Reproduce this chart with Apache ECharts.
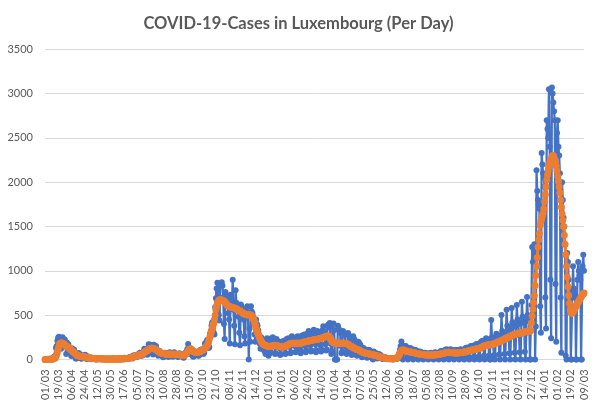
<!DOCTYPE html>
<html>
<head>
<meta charset="utf-8">
<script src="https://cdn.jsdelivr.net/npm/echarts@6/dist/echarts.min.js"></script>
<style>
html,body{margin:0;padding:0;background:#fff;}
#chart{width:597px;height:405px;}
</style>
</head>
<body>
<div id="chart"></div>
<script>
const titleText = 'COVID-19-Cases in Luxembourg (Per Day)';
const startDate = '2020-03-01';
const labelEvery = 18;
const yTicks = [0, 500, 1000, 1500, 2000, 2500, 3000, 3500];

// daily reported cases, one row per week (Sun..Sat), starting 01/03/2020
const casesPerDay = [
0,0,0,1,1,2,3,
2,3,2,5,19,26,25,
40,130,150,210,245,255,230,
180,120,225,250,190,200,226,
150,60,190,141,168,125,117,
75,39,127,64,81,108,47,
11,11,15,66,71,36,57,
13,8,25,40,38,20,52,
22,5,35,14,20,16,10,
5,2,10,12,5,3,8,
3,0,5,12,15,6,3,
2,1,10,3,7,4,3,
0,1,3,5,8,2,6,
4,0,3,9,6,3,4,
0,3,2,6,11,4,2,
1,7,4,2,18,15,10,
6,9,8,19,26,29,15,
20,11,44,36,48,40,35,
28,44,60,55,75,66,40,
45,51,90,120,116,105,80,
52,64,170,127,166,132,103,
67,55,165,135,114,150,98,
60,40,88,95,70,68,52,
34,24,60,75,63,70,46,
40,28,75,80,62,60,45,
30,38,82,61,65,56,44,
28,33,70,48,52,55,30,
25,20,60,72,58,96,118,
175,60,130,95,88,70,42,
30,35,68,75,70,64,48,
40,45,100,110,105,115,90,
60,75,180,175,195,220,210,
130,140,290,320,380,420,350,
300,280,590,690,800,865,760,
500,440,850,840,870,830,700,
400,230,760,720,680,650,520,
450,180,730,700,650,900,560,
380,170,780,640,620,600,480,
300,160,620,600,560,540,450,
260,180,560,520,600,500,0,
350,200,600,540,520,480,400,
280,200,450,400,380,330,280,
180,120,250,230,200,170,100,
90,60,220,240,200,40,110,
70,80,240,230,250,220,150,
60,70,230,210,200,190,130,
50,60,200,190,180,210,120,
60,70,230,220,240,200,140,
70,80,260,250,240,230,150,
80,90,250,260,230,240,130,
70,90,270,260,250,280,150,
80,100,290,280,320,260,160,
90,100,300,290,336,280,170,
80,100,320,290,300,310,160,
90,110,330,374,320,300,170,
100,110,380,393,360,410,180,
60,90,400,405,330,0,0,
0,0,380,350,330,300,150,
70,90,320,300,290,280,140,
60,80,298,270,260,240,120,
50,60,260,230,220,200,100,
40,50,200,185,175,160,80,
25,30,130,120,110,100,50,
20,25,110,107,95,90,40,
15,0,90,80,75,70,30,
10,15,60,55,50,40,20,
5,8,30,25,22,20,10,
3,5,15,12,10,9,4,
2,0,15,12,16,20,8,
10,25,70,110,150,202,60,
0,90,150,140,150,130,30,
0,80,130,120,125,110,25,
0,65,110,105,100,95,20,
0,55,90,85,80,75,18,
0,45,75,72,70,65,15,
0,45,72,70,75,68,15,
0,40,80,75,72,70,15,
0,55,90,88,95,85,18,
0,70,110,105,115,100,20,
0,72,115,110,105,100,22,
0,65,105,100,105,95,20,
0,70,115,110,105,110,22,
0,85,130,125,135,120,25,
0,95,150,145,155,140,30,
0,110,170,165,175,160,35,
0,130,200,190,210,185,40,
0,150,240,230,220,220,45,
0,0,445,250,240,230,50,
0,180,290,280,270,260,55,
0,200,500,320,300,290,60,
0,240,560,380,350,330,70,
0,260,580,420,390,370,75,
0,280,613,450,420,400,80,
0,290,650,480,440,410,85,
0,300,705,500,460,430,0,
0,615,1270,1100,1250,1300,0,
370,2136,1900,1800,1750,1700,600,
300,2330,2200,2100,2050,1950,700,
350,2700,2600,2500,3050,2400,900,
240,3070,3000,2900,2800,2700,850,
200,2555,2700,2400,2300,2100,700,
75,2000,1800,1600,1500,1300,40,
0,1200,1100,900,800,750,0,
0,700,1050,800,750,700,0,
0,900,1100,1000,950,900,0,
0,1050,1180,1000
];

// 7-day average, one row per week
const sevenDayAvg = [
0,0,0,0,0,1,1,
1,2,2,3,6,9,12,
17,35,55,85,115,145,176,
182,185,185,182,178,174,170,
160,150,145,140,135,130,125,
115,105,95,88,82,78,72,
60,52,45,42,40,38,36,
34,33,30,29,28,27,27,
26,24,22,20,19,18,17,
15,13,11,10,9,8,7,
7,7,7,7,7,7,7,
6,6,6,5,5,5,5,
5,4,4,4,4,4,4,
4,4,4,4,4,4,4,
4,4,5,5,5,5,5,
5,6,6,7,8,9,9,
10,11,12,14,16,18,19,
21,23,26,29,32,35,38,
40,43,47,50,53,56,58,
60,65,72,80,88,93,96,
100,105,112,118,122,125,126,
126,125,122,118,114,110,106,
98,92,85,80,76,72,70,
68,66,63,61,60,59,58,
58,58,59,60,60,59,58,
58,58,57,57,57,56,55,
55,54,52,51,50,49,48,
48,48,50,55,62,72,82,
95,105,115,120,118,110,100,
92,86,82,80,80,81,82,
82,84,88,92,96,100,105,
110,118,128,138,144,160,175,
200,230,258,290,320,350,380,
409,450,500,560,598,630,650,
665,674,674,672,670,665,660,
660,650,640,630,620,610,600,
598,595,592,590,588,585,582,
580,578,575,570,565,560,555,
550,545,541,536,530,525,520,
515,510,506,504,504,504,502,
504,502,500,490,478,462,447,
420,385,352,325,300,280,260,
239,220,205,190,178,170,165,
163,158,155,150,148,146,145,
145,147,150,152,155,158,160,
160,158,155,152,150,148,146,
145,143,140,140,140,142,145,
148,152,156,160,165,170,175,
178,180,182,183,183,183,183,
183,183,182,182,182,183,183,
183,185,188,190,193,196,200,
200,202,204,206,208,210,212,
213,215,217,219,221,222,223,
224,226,228,230,232,234,236,
238,240,243,246,250,254,258,
260,262,264,265,262,250,235,
215,200,195,190,186,184,183,
183,183,183,183,183,183,183,
183,183,182,182,181,180,180,
178,175,170,165,158,152,148,
145,140,135,130,125,120,115,
112,110,108,105,100,95,90,
85,80,78,75,72,70,69,
68,66,64,62,60,58,56,
54,52,50,48,46,44,42,
40,37,34,31,28,26,24,
22,20,18,16,14,12,11,
11,10,9,8,8,7,7,
7,8,9,10,12,15,18,
25,35,50,70,88,100,106,
106,106,104,100,96,92,90,
88,86,85,84,83,82,80,
78,76,74,72,70,68,66,
64,62,60,58,57,56,55,
54,53,52,51,50,50,50,
50,50,50,50,50,50,50,
50,50,51,52,53,54,55,
56,58,60,62,64,66,68,
70,72,74,76,78,79,80,
80,80,79,78,77,76,75,
74,73,72,72,72,73,74,
75,76,77,78,79,80,82,
84,86,88,90,92,94,96,
98,100,102,104,106,108,110,
112,114,116,118,120,122,124,
126,130,134,138,142,146,150,
153,156,158,160,162,163,164,
165,166,168,170,172,175,178,
180,184,188,192,196,199,202,
204,208,212,216,220,225,230,
234,238,240,244,248,252,256,
260,264,268,272,276,279,280,
282,285,288,290,292,295,298,
298,300,302,304,306,308,310,
312,314,315,316,317,317,317,
330,412,490,565,640,718,830,
947,1050,1150,1270,1350,1420,1515,
1560,1590,1620,1650,1700,1780,1860,
1950,2025,2080,2130,2180,2220,2250,
2260,2285,2300,2300,2280,2250,2215,
2180,2130,2070,2010,1950,1880,1800,
1720,1640,1570,1500,1400,1300,1180,
1050,930,820,720,630,560,530,
520,525,535,550,565,580,600,
615,630,645,660,675,690,705,
720,730,740,750
];

if (casesPerDay.length !== sevenDayAvg.length) {
  console.error('length mismatch', casesPerDay.length, sevenDayAvg.length);
}

// day labels dd/mm for each data point
const categories = [];
(function () {
  const d0 = new Date(startDate + 'T00:00:00Z');
  for (let i = 0; i < casesPerDay.length; i++) {
    const d = new Date(d0.getTime() + i * 86400000);
    const dd = String(d.getUTCDate()).padStart(2, '0');
    const mm = String(d.getUTCMonth() + 1).padStart(2, '0');
    categories.push(dd + '/' + mm);
  }
})();

const FONT = 'Lato, "Liberation Sans", sans-serif';
const chart = echarts.init(document.getElementById('chart'), null, {renderer: 'canvas'});
chart.setOption({
  animation: false,
  backgroundColor: '#ffffff',
  title: {
    text: titleText,
    left: 'center',
    top: 10,
    textStyle: {fontFamily: FONT, fontSize: 16.5, fontWeight: 'bold', color: '#595959'}
  },
  grid: {left: 45, right: 13, top: 49.3, bottom: 45.6, containLabel: false},
  xAxis: {
    type: 'category',
    data: categories,
    boundaryGap: false,
    axisLine: {show: true, lineStyle: {color: '#D9D9D9', width: 1}},
    axisTick: {show: false},
    splitLine: {show: false},
    axisLabel: {
      interval: labelEvery - 1,
      rotate: 90,
      margin: 10,
      fontFamily: FONT,
      fontSize: 11,
      color: '#595959'
    }
  },
  yAxis: {
    type: 'value',
    min: yTicks[0],
    max: yTicks[yTicks.length - 1],
    interval: yTicks[1] - yTicks[0],
    axisLine: {show: false},
    axisTick: {show: false},
    splitLine: {lineStyle: {color: '#D9D9D9', width: 1}},
    axisLabel: {
      margin: 12, fontFamily: FONT, fontSize: 11, color: '#595959',
      formatter: function (v) { return String(v); }
    }
  },
  series: [
    {
      name: 'Cases',
      type: 'line',
      data: casesPerDay,
      symbol: 'circle',
      symbolSize: 6,
      showAllSymbol: true,
      lineStyle: {color: '#4472C4', width: 2.25},
      itemStyle: {color: '#4472C4'},
      z: 2
    },
    {
      name: '7-day average',
      type: 'line',
      data: sevenDayAvg,
      symbol: 'circle',
      symbolSize: 7,
      showAllSymbol: true,
      lineStyle: {color: '#ED7D31', width: 3},
      itemStyle: {color: '#ED7D31'},
      z: 3
    }
  ]
});
</script>
</body>
</html>
